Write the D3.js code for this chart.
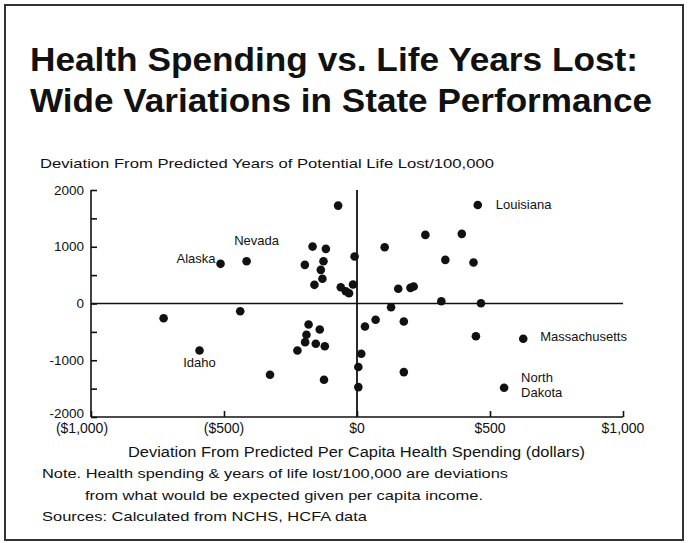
<!DOCTYPE html>
<html>
<head>
<meta charset="utf-8">
<script src="https://cdn.jsdelivr.net/npm/d3@7"></script>
<style>
  body { margin: 0; background: #fff; }
  svg { display: block; font-family: "Liberation Sans", Arial, Helvetica, sans-serif; }
</style>
</head>
<body>
<svg id="chart"></svg>
<script>
// Chart data
const spending = [
  -71, -167, -117, -9, -196, -126, -513, -415, -136, -130,
  -160, -61, -42, -30, -15, -727, -439, -592, -327, -224,
  -182, -190, -195, -140, -155, -121, -124, 5, 5, 16,
  30, 70, 128, 176, 176, 155, 201, 213, 104, 257,
  394, 332, 438, 454, 317, 466, 447, 625, 553
];
const lifeLost = [
  1725, 1003, 963, 827, 681, 744, 699, 744, 593, 435,
  329, 287, 216, 181, 334, -259, -136, -827, -1255, -827,
  -370, -551, -681, -458, -709, -752, -1343, -1120, -1473, -885,
  -405, -287, -65, -317, -1209, 259, 276, 299, 991, 1209,
  1227, 769, 722, 1737, 40, 5, -576, -621, -1484
];
// index into the arrays above for the states that carry a name
const namedStates = [
  { name: 'Louisiana', index: 43 },
  { name: 'Massachusetts', index: 47 },
  { name: 'North Dakota', index: 48 },
  { name: 'Nevada', index: 7 },
  { name: 'Alaska', index: 6 },
  { name: 'Idaho', index: 17 }
];
const xTicks = [-1000, -500, 0, 500, 1000];
const xTickLabels = ['($1,000)', '($500)', '$0', '$500', '$1,000'];
const yTicks = [2000, 1500, 1000, 500, 0, -500, -1000, -1500, -2000];
const yTickLabels = ['2000', '1000', '0', '-1000', '-2000'];

const titleLines = [
  'Health Spending vs. Life Years Lost:',
  'Wide Variations in State Performance'
];
const yTitle = 'Deviation From Predicted Years of Potential Life Lost/100,000';
const xTitle = 'Deviation From Predicted Per Capita Health Spending (dollars)';
const noteLines = [
  'Note. Health spending & years of life lost/100,000 are deviations',
  'from what would be expected given per capita income.',
  'Sources: Calculated from NCHS, HCFA data'
];

// Layout
const W = 688, H = 543;
const plot = { left: 91, right: 623, top: 190, bottom: 417 };
const ink = '#111';

// label placement relative to its dot: [dx, dy, anchor]
const labelOffsets = {
  'Louisiana': [18, 0, 'start'],
  'Massachusetts': [17, -2, 'start'],
  'North Dakota': [17, -10, 'start'],
  'Nevada': [10, -21, 'middle'],
  'Alaska': [-5, -5, 'end'],
  'Idaho': [0, 12, 'middle']
};

const svg = d3.select('#chart').attr('width', W).attr('height', H);

svg.append('rect')
  .attr('width', W).attr('height', H).attr('fill', '#fff');

// frame
svg.append('rect')
  .attr('x', 5).attr('y', 5)
  .attr('width', 678).attr('height', 535)
  .attr('fill', 'none')
  .attr('stroke', '#333')
  .attr('stroke-width', 2);

// Title
svg.selectAll('.title')
  .data(titleLines)
  .enter().append('text')
  .attr('class', 'title')
  .attr('x', 30)
  .attr('y', (d, i) => 71 + i * 41)
  .attr('textLength', (d, i) => i === 0 ? 608 : 622)
  .attr('lengthAdjust', 'spacingAndGlyphs')
  .style('font-size', '34px')
  .style('font-weight', 'bold')
  .style('fill', ink)
  .text(d => d);

const x = d3.scaleLinear().domain([-1000, 1000]).range([plot.left, plot.right]);
const y = d3.scaleLinear().domain([-2000, 2000]).range([plot.bottom, plot.top]);

// y axis title
svg.append('text')
  .attr('x', 40).attr('y', 168)
  .attr('textLength', 454)
  .attr('lengthAdjust', 'spacingAndGlyphs')
  .style('font-size', '13.5px')
  .style('fill', ink)
  .text(yTitle);

// Y axis, ticks pointing into the plot
const yAxis = d3.axisRight(y)
  .tickValues(yTicks)
  .tickSize(6)
  .tickFormat('');
const gy = svg.append('g')
  .attr('transform', `translate(${plot.left},0)`)
  .call(yAxis);
gy.select('.domain').attr('d', `M0,${plot.top}V${plot.bottom}`);
gy.selectAll('line, path').attr('stroke', ink).attr('stroke-width', 1.6);

svg.selectAll('.ylab')
  .data(yTickLabels)
  .enter().append('text')
  .attr('class', 'ylab')
  .attr('x', plot.left - 7)
  .attr('y', d => y(+d) - (+d === -2000 ? 4 : 0))
  .attr('dy', '0.35em')
  .attr('text-anchor', 'end')
  .style('font-size', '13.5px')
  .style('fill', ink)
  .text(d => d);

// X axis, ticks pointing up
const xAxis = d3.axisTop(x)
  .tickValues(xTicks)
  .tickSize(6)
  .tickFormat('');
const gx = svg.append('g')
  .attr('transform', `translate(0,${plot.bottom})`)
  .call(xAxis);
gx.select('.domain').attr('d', `M${plot.left},0H${plot.right}`);
gx.selectAll('line, path').attr('stroke', ink).attr('stroke-width', 1.6);

svg.selectAll('.xlab')
  .data(xTicks)
  .enter().append('text')
  .attr('class', 'xlab')
  .attr('x', (d, i) => x(d) - (i === 0 ? 9 : 0))
  .attr('y', plot.bottom + 16)
  .attr('text-anchor', 'middle')
  .style('font-size', '14px')
  .style('fill', ink)
  .text((d, i) => xTickLabels[i]);

// x axis title
svg.append('text')
  .attr('x', 128).attr('y', 457)
  .attr('textLength', 457)
  .attr('lengthAdjust', 'spacingAndGlyphs')
  .style('font-size', '14px')
  .style('fill', ink)
  .text(xTitle);

// zero reference lines
svg.append('line')
  .attr('x1', x(-1000)).attr('x2', x(1000))
  .attr('y1', y(0)).attr('y2', y(0))
  .attr('stroke', ink).attr('stroke-width', 1.6);
svg.append('line')
  .attr('x1', x(0)).attr('x2', x(0))
  .attr('y1', y(2000)).attr('y2', y(-2000))
  .attr('stroke', ink).attr('stroke-width', 1.8);

// dots
svg.selectAll('.dot')
  .data(spending)
  .enter().append('circle')
  .attr('class', 'dot')
  .attr('cx', d => x(d))
  .attr('cy', (d, i) => y(lifeLost[i]))
  .attr('r', 4.3)
  .attr('fill', ink);

// state labels
namedStates.forEach(s => {
  const [dx, dy, anchor] = labelOffsets[s.name];
  const px = x(spending[s.index]) + dx;
  const py = y(lifeLost[s.index]) + dy;
  const parts = s.name === 'North Dakota' ? ['North', 'Dakota'] : [s.name];
  const t = svg.append('text')
    .attr('x', px).attr('y', py)
    .attr('text-anchor', anchor)
    .style('font-size', '13px')
    .style('fill', ink);
  parts.forEach((p, i) => {
    t.append('tspan')
      .attr('x', px)
      .attr('dy', i === 0 ? '0.35em' : '1.15em')
      .text(p);
  });
});

// notes
svg.selectAll('.note')
  .data(noteLines)
  .enter().append('text')
  .attr('class', 'note')
  .attr('x', (d, i) => i === 1 ? 85 : 42)
  .attr('y', (d, i) => 478 + i * 21.5)
  .attr('textLength', (d, i) => [466, 398, 325][i])
  .attr('lengthAdjust', 'spacingAndGlyphs')
  .style('font-size', '13.5px')
  .style('fill', ink)
  .text(d => d);
</script>
</body>
</html>
